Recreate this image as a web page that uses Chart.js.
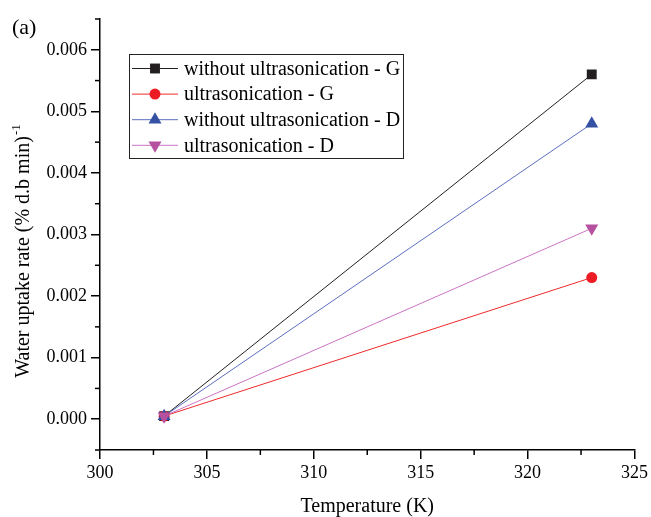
<!DOCTYPE html>
<html>
<head>
<meta charset="utf-8">
<script src="https://cdn.jsdelivr.net/npm/chart.js@4.4.1/dist/chart.umd.min.js"></script>
<style>
  html, body { margin: 0; padding: 0; background: #fff; }
  #wrap { width: 651px; height: 517px; }
</style>
</head>
<body>
<div id="wrap"><canvas id="c" width="651" height="517"></canvas></div>
<script>
// Water uptake rate vs temperature, with and without ultrasonication
const temperatures = [303, 323];
const withoutUltraG = [0.00005, 0.0056];
const ultraG = [0.00005, 0.0023];
const withoutUltraD = [0.00005, 0.0048];
const ultraD = [0.00005, 0.0031];

const seriesNames = [
  'without ultrasonication - G',
  'ultrasonication - G',
  'without ultrasonication - D',
  'ultrasonication - D'
];

const xTickValues = [300, 305, 310, 315, 320, 325];
const yTickValues = [0.000, 0.001, 0.002, 0.003, 0.004, 0.005, 0.006];

const FONT = '"Liberation Serif", "Times New Roman", serif';

function pts(ys) { return temperatures.map((t, i) => ({ x: t, y: ys[i] })); }

const styles = [
  { line: '#231f20', fill: '#231f20', shape: 'rect', r: 7 },
  { line: '#ee2a2a', fill: '#ed1c24', shape: 'circle', r: 5.5 },
  { line: '#5a6fbf', fill: '#3551a4', shape: 'triangle', r: 7.5 },
  { line: '#cc73c4', fill: '#b5519f', shape: 'triangleDown', r: 7.5 }
];
const seriesData = [withoutUltraG, ultraG, withoutUltraD, ultraD];

const datasets = seriesData.map((ys, i) => ({
  label: seriesNames[i],
  data: pts(ys),
  showLine: true,
  borderColor: styles[i].line,
  borderWidth: 1,
  backgroundColor: styles[i].fill,
  pointBackgroundColor: styles[i].fill,
  pointBorderColor: styles[i].fill,
  pointBorderWidth: 0,
  pointStyle: styles[i].shape === 'triangleDown' ? 'triangle' : styles[i].shape,
  rotation: styles[i].shape === 'triangleDown' ? 180 : 0,
  pointRadius: styles[i].r,
  pointHoverRadius: styles[i].r,
  order: 4 - i
}));

function drawMarker(ctx, shape, x, y, r, color) {
  ctx.save();
  ctx.fillStyle = color;
  ctx.beginPath();
  if (shape === 'rect') {
    const s = r / Math.SQRT2;
    ctx.rect(x - s, y - s, 2 * s, 2 * s);
  } else if (shape === 'circle') {
    ctx.arc(x, y, r, 0, Math.PI * 2);
  } else {
    const dir = shape === 'triangle' ? 1 : -1;
    ctx.moveTo(x, y - dir * r);
    ctx.lineTo(x + 0.866 * r, y + dir * 0.5 * r);
    ctx.lineTo(x - 0.866 * r, y + dir * 0.5 * r);
    ctx.closePath();
  }
  ctx.fill();
  ctx.restore();
}

// minor ticks, axis titles, panel label and the framed legend
const decorations = {
  id: 'decorations',
  afterDraw(chart) {
    const ctx = chart.ctx;
    const xs = chart.scales.x, ys = chart.scales.y;
    const area = chart.chartArea;
    ctx.save();
    ctx.strokeStyle = '#000';
    ctx.lineWidth = 1.5;
    // minor ticks halfway between the major ones
    for (let i = 0; i < xTickValues.length - 1; i++) {
      const px = xs.getPixelForValue((xTickValues[i] + xTickValues[i + 1]) / 2);
      ctx.beginPath();
      ctx.moveTo(px, area.bottom);
      ctx.lineTo(px, area.bottom + 5);
      ctx.stroke();
    }
    const yMinor = [yTickValues[0] - 0.0005].concat(yTickValues.map(v => v + 0.0005));
    yMinor.forEach(v => {
      const py = ys.getPixelForValue(v);
      ctx.beginPath();
      ctx.moveTo(area.left, py);
      ctx.lineTo(area.left - 5, py);
      ctx.stroke();
    });

    // x axis title
    ctx.fillStyle = '#000';
    ctx.font = '20px ' + FONT;
    ctx.textAlign = 'center';
    ctx.textBaseline = 'alphabetic';
    ctx.fillText('Temperature (K)', (area.left + area.right) / 2, 512);

    // y axis title with superscript
    const main = 'Water uptake rate (% d.b min)';
    const sup = '-1';
    ctx.font = '20px ' + FONT;
    const wMain = ctx.measureText(main).width;
    ctx.font = '13px ' + FONT;
    const wSup = ctx.measureText(sup).width;
    const total = wMain + wSup + 1;
    ctx.translate(29, 251);
    ctx.rotate(-Math.PI / 2);
    ctx.textAlign = 'left';
    ctx.font = '20px ' + FONT;
    ctx.fillText(main, -total / 2, 0);
    ctx.font = '13px ' + FONT;
    ctx.fillText(sup, -total / 2 + wMain + 1, -9);
    ctx.setTransform(1, 0, 0, 1, 0, 0);

    // panel label
    ctx.font = '22px ' + FONT;
    ctx.textAlign = 'left';
    ctx.fillText('(a)', 12, 34);

    // legend
    const box = { x: 129, y: 54, w: 274, h: 104 };
    ctx.lineWidth = 1;
    ctx.strokeStyle = '#222';
    ctx.strokeRect(box.x + 0.5, box.y + 0.5, box.w, box.h);
    ctx.font = '20px ' + FONT;
    ctx.textBaseline = 'middle';
    chart.data.datasets.forEach((ds, i) => {
      const yy = 68.5 + i * 25.6;
      ctx.strokeStyle = styles[i].line;
      ctx.lineWidth = 1;
      ctx.beginPath();
      ctx.moveTo(132, yy);
      ctx.lineTo(178, yy);
      ctx.stroke();
      drawMarker(ctx, styles[i].shape, 155, yy, styles[i].r, styles[i].fill);
      ctx.fillStyle = '#000';
      ctx.fillText(ds.label, 184, yy + 1);
    });
    ctx.restore();
  }
};

new Chart(document.getElementById('c'), {
  type: 'scatter',
  data: { datasets },
  options: {
    responsive: false,
    animation: false,
    layout: { padding: { left: 0, top: 19, right: 14, bottom: 0 } },
    plugins: { legend: { display: false }, tooltip: { enabled: false } },
    scales: {
      x: {
        type: 'linear',
        min: 300, max: 325,
        afterBuildTicks(scale) { scale.ticks = xTickValues.map(v => ({ value: v })); },
        afterFit(scale) { scale.height = 67; },
        grid: { display: true, drawOnChartArea: false, drawTicks: true, tickLength: 9, color: '#000', lineWidth: 1.5 },
        border: { display: true, color: '#000', width: 1.5 },
        ticks: { color: '#000', font: { family: FONT, size: 18 }, padding: 3, maxRotation: 0,
          callback: v => String(v) }
      },
      y: {
        type: 'linear',
        min: -0.0005, max: 0.0065,
        afterBuildTicks(scale) { scale.ticks = yTickValues.map(v => ({ value: v })); },
        afterFit(scale) { scale.width = 100; },
        grid: { display: true, drawOnChartArea: false, drawTicks: true, tickLength: 9, color: '#000', lineWidth: 1.5 },
        border: { display: true, color: '#000', width: 1.5 },
        ticks: { color: '#000', font: { family: FONT, size: 18 }, padding: 4,
          callback: v => Number(v).toFixed(3) }
      }
    }
  },
  plugins: [decorations]
});
</script>
</body>
</html>
